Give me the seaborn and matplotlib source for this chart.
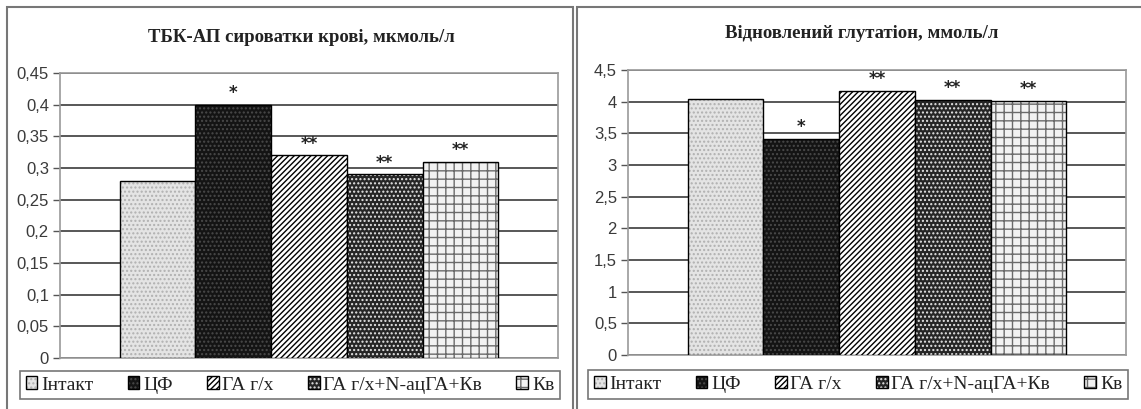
import numpy as np
import pandas as pd
import matplotlib
matplotlib.use("Agg")
import matplotlib.pyplot as plt
from matplotlib.patches import Rectangle
from matplotlib.colors import to_rgba
from matplotlib.ticker import FuncFormatter
import seaborn as sns

groups = ["Інтакт", "ЦФ", "ГА г/х", "ГА г/х+N-ацГА+Кв", "Кв"]
tbk_values = [0.28, 0.40, 0.32, 0.29, 0.31]
gsh_values = [4.05, 3.41, 4.17, 4.03, 4.01]
tbk_marks = ["", "*", "**", "**", "**"]
gsh_marks = ["", "*", "**", "**", "**"]
tbk_title = "ТБК-АП сироватки крові, мкмоль/л"
gsh_title = "Відновлений глутатіон, ммоль/л"
tbk_ticks = [0, 0.05, 0.1, 0.15, 0.2, 0.25, 0.3, 0.35, 0.4, 0.45]
gsh_ticks = [0, 0.5, 1, 1.5, 2, 2.5, 3, 3.5, 4, 4.5]

faces = ["#e4e4e4", "#141414", "#ffffff", "#262626", "#f2f2f2"]
hatches = ["....", "....", "//////", "....", "++"]
hatch_cols = ["#b0b0b0", "#4a4a4a", "#000000", "#e6e6e6", "#6a6a6a"]

sns.set_theme(style="white")
plt.rcParams["font.family"] = ["Liberation Serif", "DejaVu Serif"]
plt.rcParams["hatch.linewidth"] = 1.0

W, H = 1141, 409
fig = plt.figure(figsize=(W / 100, H / 100), dpi=100)


def fx(px):
    return px / W


def fy(py):
    return 1 - py / H


def panel(rect_px, values, marks, ticks, title, title_xy, leg_box, fmt):
    x0, y0, x1, y1 = rect_px
    ax = fig.add_axes([fx(x0), fy(y1), fx(x1 - x0), (y1 - y0) / H])
    df = pd.DataFrame({"group": groups, "value": values})
    sns.barplot(data=df, x="group", y="value", hue="group", hue_order=groups,
                order=groups, palette=faces, width=1.0, dodge=False,
                legend=False, ax=ax, saturation=1)
    bars = [p for p in ax.patches]
    for p, h, hc in zip(bars, hatches, hatch_cols):
        p.set_edgecolor("#000000")
        p.set_linewidth(1.0)
        p.set_hatch(h)
        p._hatch_color = to_rgba(hc)
        p.set_zorder(3)
    for p, m in zip(bars, marks):
        if m:
            ax.annotate(m, (p.get_x() + p.get_width() / 2, p.get_height()),
                        xytext=(0, 2), textcoords="offset points",
                        ha="center", va="bottom", fontsize=12,
                        fontweight="bold", family="DejaVu Sans",
                        color="#222222")
    ax.set_xlim(-0.5 - 0.79, 4.5 + 0.79)
    ax.set_ylim(ticks[0], ticks[-1])
    ax.set_yticks(ticks)
    ax.yaxis.set_major_formatter(FuncFormatter(fmt))
    ax.set_xticks([])
    ax.set_xlabel("")
    ax.set_ylabel("")
    ax.grid(axis="y", color="#4a4a4a", linewidth=1.3, zorder=0)
    ax.set_axisbelow(True)
    for s in ax.spines.values():
        s.set_color("#9a9a9a")
        s.set_linewidth(1.2)
    ax.tick_params(axis="y", which="major", left=True, length=5, width=1,
                   color="#555555", labelsize=12, labelcolor="#3a3a3a", pad=3)
    for lab in ax.get_yticklabels():
        lab.set_family("Liberation Sans")
    fig.text(fx(title_xy[0]), fy(title_xy[1]), title, ha="center",
             va="center", fontsize=13.5, fontweight="bold", color="#222222")
    lx0, ly0, lx1, ly1 = leg_box
    leg = ax.legend(handles=bars, labels=groups, ncol=5,
                    loc="center", bbox_to_anchor=(fx(lx0), fy(ly1), fx(lx1 - lx0), (ly1 - ly0) / H),
                    bbox_transform=fig.transFigure, mode="expand",
                    frameon=True, fancybox=False, fontsize=14,
                    handlelength=0.6, handleheight=0.6, handletextpad=0.2,
                    columnspacing=1.0, borderaxespad=0, borderpad=0.3)
    leg.get_frame().set_edgecolor("#555555")
    leg.get_frame().set_linewidth(1.2)
    for t in leg.get_texts():
        t.set_color("#222222")
    return ax


def fmt_comma(v, pos):
    s = ("%.2f" % v).rstrip("0").rstrip(".")
    return s.replace(".", ",")


panel((60, 73, 558, 358), tbk_values, tbk_marks, tbk_ticks, tbk_title,
      (301, 37), (20, 368, 560, 402), fmt_comma)
panel((628, 70, 1126, 355), gsh_values, gsh_marks, gsh_ticks, gsh_title,
      (862, 34), (588, 366, 1128, 403), fmt_comma)

# panel frames
fig.add_artist(Rectangle((fx(7), fy(420)), fx(573 - 7), (420 - 7) / H,
                         transform=fig.transFigure, fill=False,
                         edgecolor="#777777", linewidth=1.5))
fig.add_artist(Rectangle((fx(577), fy(420)), fx(1150 - 577), (420 - 7) / H,
                         transform=fig.transFigure, fill=False,
                         edgecolor="#777777", linewidth=1.5))

fig.savefig("out.png", dpi=100, facecolor="white")
